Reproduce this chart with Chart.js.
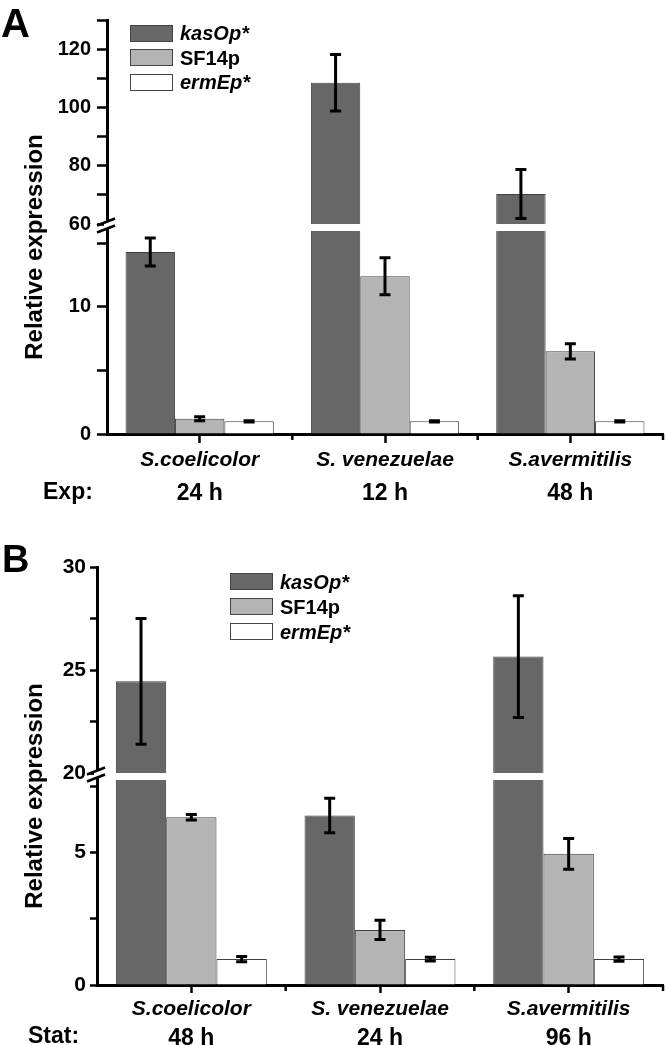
<!DOCTYPE html>
<html lang="en">
<head>
<meta charset="UTF-8">
<title>Relative expression of kasOp*, SF14p and ermEp*</title>
<script src="https://cdn.jsdelivr.net/npm/chart.js@4.4.0/dist/chart.umd.min.js"></script>
<style>
    html, body { margin: 0; padding: 0; overflow: hidden; background: #fff; }
    body { font-family: "Liberation Sans", Arial, sans-serif; color: #000; width: 666px; height: 1045px; position: relative; }
    .panel { position: absolute; left: 0; width: 666px; }
    #panelA { top: 0; height: 505px; }
    #panelB { top: 505px; height: 540px; }
    .letter { position: absolute; font-weight: bold; line-height: 1; }
    .ytitle { position: absolute; font-weight: bold; font-size: 24px; line-height: 1; white-space: nowrap;
              transform: translate(-50%, -50%) rotate(-90deg); }
    .phase { position: absolute; font-weight: bold; font-size: 23px; line-height: 1; }
    .legend { position: absolute; font-weight: bold; font-size: 20px; line-height: 1; }
    .legend .row { display: flex; align-items: center; }
    .legend .box { box-sizing: border-box; width: 43px; height: 17px; border: 1px solid #444; margin-right: 7px; }
</style>
</head>
<body>
<div class="panel" id="panelA">
    <canvas id="chartA" width="666" height="505"></canvas>
    <div class="letter" style="left:1px;top:3px;font-size:40px">A</div>
    <div class="ytitle" style="left:34px;top:247px">Relative expression</div>
    <div class="phase" style="left:43px;top:480px">Exp:</div>
    <div class="legend" id="legendA" style="left:130px;top:21px"></div>
</div>
<div class="panel" id="panelB">
    <canvas id="chartB" width="666" height="540"></canvas>
    <div class="letter" style="left:2px;top:35px;font-size:38px">B</div>
    <div class="ytitle" style="left:34px;top:291px">Relative expression</div>
    <div class="phase" style="left:28px;top:519px">Stat:</div>
    <div class="legend" id="legendB" style="left:230px;top:64px"></div>
</div>

<script>
    // categories and series
    const species = ['S.coelicolor', 'S. venezuelae', 'S.avermitilis'];
    const seriesNames = ['kasOp*', 'SF14p', 'ermEp*'];
    const seriesColors = ['#676767', '#b4b4b4', '#ffffff'];
    const seriesItalic = [true, false, true];

    // A: exponential phase
    const expTimes = ['24 h', '12 h', '48 h'];
    const expKas = [14.3, 108.5, 70.3];
    const expKasErr = [1.1, 9.7, 8.4];
    const expSF = [1.2, 12.4, 6.5];
    const expSFErr = [0.15, 1.45, 0.6];
    const expErm = [1.0, 1.0, 1.0];
    const expErmErr = [0.05, 0.05, 0.05];
    const expLowRange = [0, 16.5];
    const expHighRange = [60, 130];
    const expLowLabels = [0, 10];
    const expHighLabels = [60, 80, 100, 120];

    // B: stationary phase
    const statTimes = ['48 h', '24 h', '96 h'];
    const statKas = [24.45, 6.4, 25.65];
    const statKasErr = [3.05, 0.65, 2.95];
    const statSF = [6.33, 2.08, 4.95];
    const statSFErr = [0.1, 0.36, 0.58];
    const statErm = [0.98, 0.98, 0.98];
    const statErmErr = [0.1, 0.07, 0.08];
    const statLowRange = [0, 8];
    const statHighRange = [20, 30];
    const statLowLabels = [0, 5];
    const statHighLabels = [20, 25, 30];

    Chart.defaults.font.family = '"Liberation Sans", Arial, sans-serif';
    Chart.defaults.font.weight = 'bold';
    Chart.defaults.color = '#000';

    // white cut through the tall bars, the // marks on the axis,
    // short ticks between categories and the error bars
    function breakPlugin(values, errors, gap) {
        return {
            id: 'breakAndErrors',
            afterDraw(chart) {
                const ctx = chart.ctx;
                const area = chart.chartArea;
                const low = chart.scales.yLow, high = chart.scales.yHigh, xs = chart.scales.x;
                const cut = low.top;
                ctx.save();
                ctx.fillStyle = '#fff';
                ctx.fillRect(area.left + 2, cut, area.right - area.left, gap);
                ctx.fillRect(area.left - 3, cut - 2, 6, gap);
                ctx.strokeStyle = '#000';
                ctx.lineWidth = 2.5;
                [cut - 2, cut - 2 + gap].forEach(y => {
                    ctx.beginPath();
                    ctx.moveTo(area.left - 10, y + 3.5);
                    ctx.lineTo(area.left + 8, y - 3.5);
                    ctx.stroke();
                });

                const n = species.length;
                for (let k = 1; k <= n; k++) {
                    const px = k < n ? (xs.getPixelForValue(k - 1) + xs.getPixelForValue(k)) / 2 : area.right;
                    ctx.beginPath();
                    ctx.moveTo(px, area.bottom);
                    ctx.lineTo(px, area.bottom + 6);
                    ctx.stroke();
                }

                ctx.lineWidth = 3;
                values.forEach((vals, s) => {
                    const meta = chart.getDatasetMeta(2 * s);
                    vals.forEach((v, i) => {
                        const sc = v > high.min ? high : low;
                        const x = meta.data[i].x;
                        const y1 = sc.getPixelForValue(v + errors[s][i]);
                        const y2 = sc.getPixelForValue(v - errors[s][i]);
                        ctx.beginPath();
                        ctx.moveTo(x, y1); ctx.lineTo(x, y2);
                        ctx.moveTo(x - 5.5, y1); ctx.lineTo(x + 5.5, y1);
                        ctx.moveTo(x - 5.5, y2); ctx.lineTo(x + 5.5, y2);
                        ctx.stroke();
                    });
                });
                ctx.restore();
            }
        };
    }

    function yAxis(range, step, shown, weight, tickLen, pad, size, axisX) {
        return {
            type: 'linear', position: 'left', stack: 'ybreak', stackWeight: weight,
            stacked: false, bounds: 'data', min: range[0], max: range[1], z: 1,
            grid: { drawOnChartArea: false, tickLength: tickLen, tickWidth: 2.5, tickColor: '#000' },
            border: { color: '#000', width: 3 },
            ticks: {
                stepSize: step, includeBounds: false, autoSkip: false, padding: pad,
                color: '#000', font: { size: size, weight: 'bold' },
                callback: v => shown.includes(v) ? v : ''
            },
            afterFit: s => { s.width = axisX; }
        };
    }

    function makePanel(canvasId, legendId, p) {
        const values = [p.kas, p.sf, p.erm];
        const errors = [p.kasErr, p.sfErr, p.ermErr];
        const datasets = [];
        values.forEach((vals, s) => {
            const common = {
                label: seriesNames[s], stack: 's' + s,
                backgroundColor: seriesColors[s], borderColor: '#404040', borderWidth: 1
            };
            datasets.push(Object.assign({}, common, {
                yAxisID: 'yLow', data: vals.map(v => Math.min(v, p.lowRange[1]))
            }));
            datasets.push(Object.assign({}, common, {
                yAxisID: 'yHigh', data: vals.map(v => v > p.highRange[0] ? v : null)
            }));
        });

        new Chart(document.getElementById(canvasId), {
            type: 'bar',
            data: { labels: species, datasets: datasets },
            options: {
                responsive: false,
                animation: false,
                categoryPercentage: 0.8,
                barPercentage: 1.0,
                layout: { padding: { left: 0, right: 3, top: p.top, bottom: 0 } },
                plugins: { legend: { display: false }, tooltip: { enabled: false } },
                scales: {
                    x: {
                        type: 'category', offset: true, z: 1,
                        grid: { offset: false, drawOnChartArea: false, tickLength: p.xTick, tickWidth: 2.5, tickColor: '#000' },
                        border: { color: '#000', width: 3 },
                        ticks: { padding: p.xPad, autoSkip: false, maxRotation: 0, color: '#000',
                                 font: { size: 21, weight: 'bold', style: 'italic' } },
                        afterFit: s => { s.height = p.xHeight; }
                    },
                    x2: {
                        type: 'category', labels: p.times, offset: true, position: 'bottom',
                        grid: { display: false }, border: { display: false },
                        ticks: { padding: -3, autoSkip: false, maxRotation: 0, color: '#000',
                                 font: { size: 23, weight: 'bold' } },
                        afterFit: s => { s.height = p.x2Height; }
                    },
                    yLow: yAxis(p.lowRange, p.lowStep, p.lowLabels, p.lowWeight, p.yTick, p.yPad, p.ySize, p.axisX),
                    yHigh: yAxis(p.highRange, p.highStep, p.highLabels, p.highWeight, p.yTick, p.yPad, p.ySize, p.axisX)
                }
            },
            plugins: [breakPlugin(values, errors, 7)]
        });

        // legend with the promoter names
        const legend = document.getElementById(legendId);
        seriesNames.forEach((name, s) => {
            const row = document.createElement('div');
            row.className = 'row';
            row.style.height = p.legendRow + 'px';
            const box = document.createElement('span');
            box.className = 'box';
            box.style.background = seriesColors[s];
            const txt = document.createElement('span');
            txt.textContent = name;
            if (seriesItalic[s]) txt.style.fontStyle = 'italic';
            row.appendChild(box);
            row.appendChild(txt);
            legend.appendChild(row);
        });
    }

    makePanel('chartA', 'legendA', {
        kas: expKas, kasErr: expKasErr, sf: expSF, sfErr: expSFErr, erm: expErm, ermErr: expErmErr,
        times: expTimes, lowRange: expLowRange, highRange: expHighRange,
        lowLabels: expLowLabels, highLabels: expHighLabels, lowStep: 5, highStep: 10,
        lowWeight: 210, highWeight: 204, top: 20, axisX: 107,
        yTick: 10, yPad: 6, ySize: 20, xTick: 9, xPad: 5, xHeight: 40.7, x2Height: 30.3, legendRow: 24.5
    });

    makePanel('chartB', 'legendB', {
        kas: statKas, kasErr: statKasErr, sf: statSF, sfErr: statSFErr, erm: statErm, ermErr: statErmErr,
        times: statTimes, lowRange: statLowRange, highRange: statHighRange,
        lowLabels: statLowLabels, highLabels: statHighLabels, lowStep: 2.5, highStep: 2.5,
        lowWeight: 212, highWeight: 206, top: 62, axisX: 97,
        yTick: 7, yPad: 4, ySize: 21, xTick: 8, xPad: 4, xHeight: 34.7, x2Height: 25.3, legendRow: 25
    });
</script>
</body>
</html>
